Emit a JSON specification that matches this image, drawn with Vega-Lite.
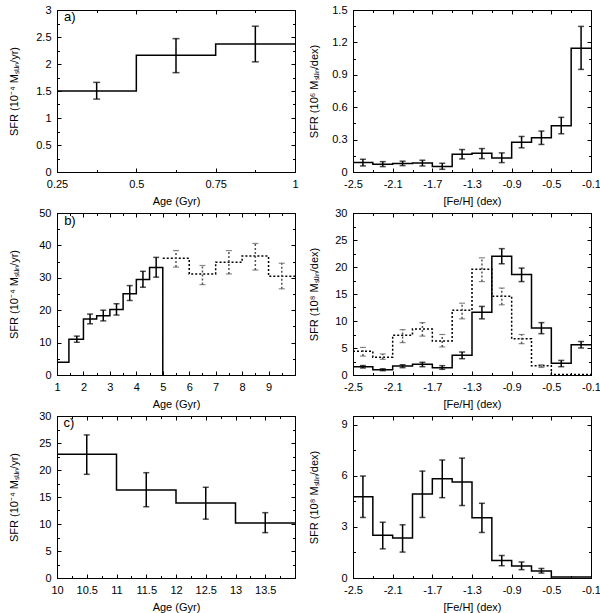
{
  "$schema": "https://vega.github.io/schema/vega-lite/v6.json",
  "description": "Star formation rate vs age and metallicity, three panels",
  "padding": {"left": 7, "top": 3, "right": 0, "bottom": 0},
  "columns": 2,
  "bounds": "flush",
  "spacing": {"row": 41, "column": 58},
  "datasets": {
    "al": [
      {"edge": 0.25, "sfr": 1.5, "mid": 0.375, "lo": 1.35, "hi": 1.66},
      {"edge": 0.5, "sfr": 2.16, "mid": 0.625, "lo": 1.84, "hi": 2.47},
      {"edge": 0.75, "sfr": 2.37, "mid": 0.875, "lo": 2.04, "hi": 2.7},
      {"edge": 1.0, "sfr": 2.37}
    ],
    "ar": [
      {"edge": -2.5, "sfr": 0.087, "mid": -2.4, "lo": 0.056, "hi": 0.118},
      {"edge": -2.3, "sfr": 0.071, "mid": -2.2, "lo": 0.05, "hi": 0.096},
      {"edge": -2.1, "sfr": 0.078, "mid": -2.0, "lo": 0.059, "hi": 0.1},
      {"edge": -1.9, "sfr": 0.084, "mid": -1.8, "lo": 0.056, "hi": 0.109},
      {"edge": -1.7, "sfr": 0.05, "mid": -1.6, "lo": 0.025, "hi": 0.081},
      {"edge": -1.5, "sfr": 0.165, "mid": -1.4, "lo": 0.121, "hi": 0.208},
      {"edge": -1.3, "sfr": 0.174, "mid": -1.2, "lo": 0.124, "hi": 0.217},
      {"edge": -1.1, "sfr": 0.13, "mid": -1.0, "lo": 0.087, "hi": 0.177},
      {"edge": -0.9, "sfr": 0.276, "mid": -0.8, "lo": 0.224, "hi": 0.329},
      {"edge": -0.7, "sfr": 0.317, "mid": -0.6, "lo": 0.255, "hi": 0.379},
      {"edge": -0.5, "sfr": 0.429, "mid": -0.4, "lo": 0.354, "hi": 0.506},
      {"edge": -0.3, "sfr": 1.146, "mid": -0.2, "lo": 0.95, "hi": 1.348},
      {"edge": -0.1, "sfr": 1.146}
    ],
    "bl": [
      {"s": "solid", "edge": 1.0, "sfr": 3.9},
      {"s": "solid", "edge": 1.45, "sfr": 11.0, "mid": 1.75, "lo": 10.1, "hi": 12.0},
      {"s": "solid", "edge": 2.0, "sfr": 17.3, "mid": 2.25, "lo": 15.8, "hi": 18.8},
      {"s": "solid", "edge": 2.5, "sfr": 18.3, "mid": 2.75, "lo": 16.7, "hi": 20.0},
      {"s": "solid", "edge": 3.0, "sfr": 20.2, "mid": 3.25, "lo": 18.5, "hi": 22.0},
      {"s": "solid", "edge": 3.5, "sfr": 25.1, "mid": 3.75, "lo": 23.0, "hi": 27.6},
      {"s": "solid", "edge": 4.0, "sfr": 29.5, "mid": 4.25, "lo": 27.1, "hi": 32.0},
      {"s": "solid", "edge": 4.5, "sfr": 33.2, "mid": 4.75, "lo": 30.2, "hi": 36.3},
      {"s": "solid", "edge": 5.0, "sfr": 0},
      {"s": "dotted", "edge": 5.0, "sfr": 36.0, "mid": 5.5, "lo": 33.3, "hi": 38.4},
      {"s": "dotted", "edge": 6.0, "sfr": 31.2, "mid": 6.5, "lo": 27.9, "hi": 33.8},
      {"s": "dotted", "edge": 7.0, "sfr": 34.8, "mid": 7.5, "lo": 31.2, "hi": 38.4},
      {"s": "dotted", "edge": 8.0, "sfr": 36.7, "mid": 8.5, "lo": 32.4, "hi": 40.6},
      {"s": "dotted", "edge": 9.0, "sfr": 30.5, "mid": 9.5, "lo": 26.6, "hi": 34.5},
      {"s": "dotted", "edge": 10.0, "sfr": 30.5}
    ],
    "br": [
      {"s": "solid", "edge": -2.5, "sfr": 1.54, "mid": -2.4, "lo": 1.3, "hi": 1.75},
      {"s": "solid", "edge": -2.3, "sfr": 0.99, "mid": -2.2, "lo": 0.8, "hi": 1.15},
      {"s": "solid", "edge": -2.1, "sfr": 1.67, "mid": -2.0, "lo": 1.36, "hi": 1.9},
      {"s": "solid", "edge": -1.9, "sfr": 1.98, "mid": -1.8, "lo": 1.54, "hi": 2.35},
      {"s": "solid", "edge": -1.7, "sfr": 1.36, "mid": -1.6, "lo": 1.05, "hi": 1.73},
      {"s": "solid", "edge": -1.5, "sfr": 3.64, "mid": -1.4, "lo": 3.02, "hi": 4.26},
      {"s": "solid", "edge": -1.3, "sfr": 11.6, "mid": -1.2, "lo": 10.4, "hi": 12.7},
      {"s": "solid", "edge": -1.1, "sfr": 22.0, "mid": -1.0, "lo": 20.6, "hi": 23.4},
      {"s": "solid", "edge": -0.9, "sfr": 18.6, "mid": -0.8, "lo": 17.3, "hi": 19.8},
      {"s": "solid", "edge": -0.7, "sfr": 8.7, "mid": -0.6, "lo": 7.65, "hi": 9.7},
      {"s": "solid", "edge": -0.5, "sfr": 2.16, "mid": -0.4, "lo": 1.54, "hi": 2.7},
      {"s": "solid", "edge": -0.3, "sfr": 5.6, "mid": -0.2, "lo": 5.0, "hi": 6.2},
      {"s": "solid", "edge": -0.1, "sfr": 5.6},
      {"s": "dotted", "edge": -2.5, "sfr": 4.4, "mid": -2.4, "lo": 3.5, "hi": 5.1},
      {"s": "dotted", "edge": -2.3, "sfr": 3.3, "mid": -2.2, "lo": 2.9, "hi": 3.9},
      {"s": "dotted", "edge": -2.1, "sfr": 7.35, "mid": -2.0, "lo": 6.0, "hi": 8.4},
      {"s": "dotted", "edge": -1.9, "sfr": 8.5, "mid": -1.8, "lo": 7.2, "hi": 9.7},
      {"s": "dotted", "edge": -1.7, "sfr": 6.3, "mid": -1.6, "lo": 5.2, "hi": 7.5},
      {"s": "dotted", "edge": -1.5, "sfr": 12.0, "mid": -1.4, "lo": 10.4, "hi": 13.3},
      {"s": "dotted", "edge": -1.3, "sfr": 19.6, "mid": -1.2, "lo": 17.3, "hi": 21.7},
      {"s": "dotted", "edge": -1.1, "sfr": 14.6, "mid": -1.0, "lo": 13.0, "hi": 16.1},
      {"s": "dotted", "edge": -0.9, "sfr": 6.7, "mid": -0.8, "lo": 5.8, "hi": 7.5},
      {"s": "dotted", "edge": -0.7, "sfr": 1.7, "mid": -0.6, "lo": 1.4, "hi": 1.9},
      {"s": "dotted", "edge": -0.5, "sfr": 0.1},
      {"s": "dotted", "edge": -0.3, "sfr": 0.1},
      {"s": "dotted", "edge": -0.1, "sfr": 0.1}
    ],
    "cl": [
      {"edge": 10, "sfr": 22.9, "mid": 10.5, "lo": 19.2, "hi": 26.5},
      {"edge": 11, "sfr": 16.3, "mid": 11.5, "lo": 13.2, "hi": 19.5},
      {"edge": 12, "sfr": 13.9, "mid": 12.5, "lo": 10.9, "hi": 16.8},
      {"edge": 13, "sfr": 10.2, "mid": 13.5, "lo": 8.4, "hi": 12.1},
      {"edge": 14, "sfr": 10.2}
    ],
    "cr": [
      {"edge": -2.5, "sfr": 4.77, "mid": -2.4, "lo": 3.55, "hi": 5.98},
      {"edge": -2.3, "sfr": 2.51, "mid": -2.2, "lo": 1.71, "hi": 3.27},
      {"edge": -2.1, "sfr": 2.34, "mid": -2.0, "lo": 1.52, "hi": 3.12},
      {"edge": -1.9, "sfr": 4.93, "mid": -1.8, "lo": 3.55, "hi": 6.27},
      {"edge": -1.7, "sfr": 5.82, "mid": -1.6, "lo": 4.71, "hi": 6.92},
      {"edge": -1.5, "sfr": 5.63, "mid": -1.4, "lo": 4.25, "hi": 7.03},
      {"edge": -1.3, "sfr": 3.53, "mid": -1.2, "lo": 2.67, "hi": 4.38},
      {"edge": -1.1, "sfr": 1.03, "mid": -1.0, "lo": 0.72, "hi": 1.32},
      {"edge": -0.9, "sfr": 0.7, "mid": -0.8, "lo": 0.49, "hi": 0.94},
      {"edge": -0.7, "sfr": 0.41, "mid": -0.6, "lo": 0.29, "hi": 0.56},
      {"edge": -0.5, "sfr": 0.06},
      {"edge": -0.3, "sfr": 0.06},
      {"edge": -0.1, "sfr": 0.06}
    ]
  },
  "concat": [
    {
      "width": 238, "height": 162,
      "data": {"name": "al"},
      "layer": [
        {"mark": {"type": "line", "interpolate": "step-after", "color": "black", "strokeWidth": 1.5},
         "encoding": {
           "x": {"field": "edge", "type": "quantitative", "scale": {"domain": [0.25, 1]},
                 "axis": {"orient": "bottom", "values": [0.25, 0.5, 0.75, 1], "title": "Age (Gyr)", "titleY": 23}},
           "y": {"field": "sfr", "type": "quantitative", "scale": {"domain": [0, 3]},
                 "axis": {"orient": "left", "values": [0, 0.5, 1, 1.5, 2, 2.5, 3], "title": "SFR (10⁻⁴ Mₛᵤₙ/yr)", "titleX": -38}}}},
        {"transform": [{"filter": "isValid(datum.lo)"}],
         "mark": {"type": "rule", "color": "black", "strokeWidth": 1.5},
         "encoding": {
           "x": {"field": "mid", "type": "quantitative", "scale": {"domain": [0.25, 1]}, "axis": {"orient": "top", "values": [0.25, 0.5, 0.75, 1], "labels": false, "title": null}},
           "y": {"field": "lo", "type": "quantitative", "scale": {"domain": [0, 3]}, "axis": {"orient": "right", "values": [0, 0.5, 1, 1.5, 2, 2.5, 3], "labels": false, "title": null}},
           "y2": {"field": "hi"}}},
        {"data": {"values": [{"tag": "a)"}]},
         "mark": {"type": "text", "align": "left", "baseline": "middle", "fontSize": 13},
         "encoding": {"x": {"datum": 0.272, "type": "quantitative", "scale": {"domain": [0.25, 1]}, "axis": null}, "y": {"datum": 2.87, "type": "quantitative", "scale": {"domain": [0, 3]}, "axis": null}, "text": {"field": "tag"}}},
        {"transform": [{"filter": "isValid(datum.lo)"}],
         "mark": {"type": "tick", "orient": "horizontal", "size": 7, "thickness": 1.5, "color": "black"},
         "encoding": {
           "x": {"field": "mid", "type": "quantitative", "scale": {"domain": [0.25, 1]}, "axis": {"orient": "bottom", "values": [0.375, 0.625, 0.875], "labels": false, "domain": false, "tickSize": -2.5, "title": null}},
           "y": {"field": "lo", "type": "quantitative", "scale": {"domain": [0, 3]}, "axis": {"orient": "left", "values": [0.25, 0.75, 1.25, 1.75, 2.25, 2.75], "labels": false, "domain": false, "tickSize": -2.5, "title": null}}}},
        {"transform": [{"filter": "isValid(datum.lo)"}],
         "mark": {"type": "tick", "orient": "horizontal", "size": 7, "thickness": 1.5, "color": "black"},
         "encoding": {
           "x": {"field": "mid", "type": "quantitative", "scale": {"domain": [0.25, 1]}, "axis": {"orient": "top", "values": [0.375, 0.625, 0.875], "labels": false, "domain": false, "tickSize": -2.5, "title": null}},
           "y": {"field": "hi", "type": "quantitative", "scale": {"domain": [0, 3]}, "axis": {"orient": "right", "values": [0.25, 0.75, 1.25, 1.75, 2.25, 2.75], "labels": false, "domain": false, "tickSize": -2.5, "title": null}}}}
      ]
    },
    {
      "width": 238, "height": 162,
      "data": {"name": "ar"},
      "layer": [
        {"mark": {"type": "line", "interpolate": "step-after", "color": "black", "strokeWidth": 1.5},
         "encoding": {
           "x": {"field": "edge", "type": "quantitative", "scale": {"domain": [-2.5, -0.1]},
                 "axis": {"orient": "bottom", "values": [-2.5, -2.1, -1.7, -1.3, -0.9, -0.5, -0.1], "title": "[Fe/H] (dex)", "titleY": 23}},
           "y": {"field": "sfr", "type": "quantitative", "scale": {"domain": [0, 1.5]},
                 "axis": {"orient": "left", "values": [0, 0.3, 0.6, 0.9, 1.2, 1.5], "title": "SFR (10⁶ Mₛᵤₙ/dex)", "titleX": -34}}}},
        {"transform": [{"filter": "isValid(datum.lo)"}],
         "mark": {"type": "rule", "color": "black", "strokeWidth": 1.5},
         "encoding": {
           "x": {"field": "mid", "type": "quantitative", "scale": {"domain": [-2.5, -0.1]}, "axis": {"orient": "top", "values": [-2.5, -2.1, -1.7, -1.3, -0.9, -0.5, -0.1], "labels": false, "title": null}},
           "y": {"field": "lo", "type": "quantitative", "scale": {"domain": [0, 1.5]}, "axis": {"orient": "right", "values": [0, 0.3, 0.6, 0.9, 1.2, 1.5], "labels": false, "title": null}},
           "y2": {"field": "hi"}}},
        {"transform": [{"filter": "isValid(datum.lo)"}],
         "mark": {"type": "tick", "orient": "horizontal", "size": 6, "thickness": 1.5, "color": "black"},
         "encoding": {
           "x": {"field": "mid", "type": "quantitative", "scale": {"domain": [-2.5, -0.1]}, "axis": {"orient": "bottom", "values": [-2.3, -1.9, -1.5, -1.1, -0.7, -0.3], "labels": false, "domain": false, "tickSize": -2.5, "title": null}},
           "y": {"field": "lo", "type": "quantitative", "scale": {"domain": [0, 1.5]}, "axis": {"orient": "left", "values": [0.15, 0.45, 0.75, 1.05, 1.35], "labels": false, "domain": false, "tickSize": -2.5, "title": null}}}},
        {"transform": [{"filter": "isValid(datum.lo)"}],
         "mark": {"type": "tick", "orient": "horizontal", "size": 6, "thickness": 1.5, "color": "black"},
         "encoding": {
           "x": {"field": "mid", "type": "quantitative", "scale": {"domain": [-2.5, -0.1]}, "axis": {"orient": "top", "values": [-2.3, -1.9, -1.5, -1.1, -0.7, -0.3], "labels": false, "domain": false, "tickSize": -2.5, "title": null}},
           "y": {"field": "hi", "type": "quantitative", "scale": {"domain": [0, 1.5]}, "axis": {"orient": "right", "values": [0.15, 0.45, 0.75, 1.05, 1.35], "labels": false, "domain": false, "tickSize": -2.5, "title": null}}}}
      ]
    },
    {
      "width": 238, "height": 162,
      "data": {"name": "bl"},
      "layer": [
        {"transform": [{"filter": "datum.s == 'solid'"}],
         "mark": {"type": "line", "interpolate": "step-after", "color": "black", "strokeWidth": 1.5},
         "encoding": {
           "x": {"field": "edge", "type": "quantitative", "scale": {"domain": [1, 10]},
                 "axis": {"orient": "bottom", "values": [1, 2, 3, 4, 5, 6, 7, 8, 9], "title": "Age (Gyr)", "titleY": 23}},
           "y": {"field": "sfr", "type": "quantitative", "scale": {"domain": [0, 50]},
                 "axis": {"orient": "left", "values": [0, 10, 20, 30, 40, 50], "title": "SFR (10⁻⁴ Mₛᵤₙ/yr)", "titleX": -38}}}},
        {"transform": [{"filter": "isValid(datum.lo) && datum.s == 'solid'"}],
         "mark": {"type": "rule", "color": "black", "strokeWidth": 1.5},
         "encoding": {
           "x": {"field": "mid", "type": "quantitative", "scale": {"domain": [1, 10]}, "axis": {"orient": "top", "values": [1, 2, 3, 4, 5, 6, 7, 8, 9], "labels": false, "title": null}},
           "y": {"field": "lo", "type": "quantitative", "scale": {"domain": [0, 50]}, "axis": {"orient": "right", "values": [0, 10, 20, 30, 40, 50], "labels": false, "title": null}},
           "y2": {"field": "hi"}}},
        {"data": {"values": [{"tag": "b)"}]},
         "mark": {"type": "text", "align": "left", "baseline": "middle", "fontSize": 13},
         "encoding": {"x": {"datum": 1.27, "type": "quantitative", "scale": {"domain": [1, 10]}, "axis": null}, "y": {"datum": 47.4, "type": "quantitative", "scale": {"domain": [0, 50]}, "axis": null}, "text": {"field": "tag"}}},
        {"transform": [{"filter": "datum.s == 'dotted'"}],
         "mark": {"type": "line", "interpolate": "step-after", "color": "black", "strokeWidth": 1.5, "strokeDash": [2, 2]},
         "encoding": {"x": {"field": "edge", "type": "quantitative", "scale": {"domain": [1, 10]}, "axis": null}, "y": {"field": "sfr", "type": "quantitative", "scale": {"domain": [0, 50]}, "axis": null}}},
        {"transform": [{"filter": "isValid(datum.lo) && datum.s == 'solid'"}],
         "mark": {"type": "tick", "orient": "horizontal", "size": 6, "thickness": 1.5, "color": "black"},
         "encoding": {
           "x": {"field": "mid", "type": "quantitative", "scale": {"domain": [1, 10]}, "axis": {"orient": "bottom", "values": [1.5, 2.5, 3.5, 4.5, 5.5, 6.5, 7.5, 8.5, 9.5], "labels": false, "domain": false, "tickSize": -2.5, "title": null}},
           "y": {"field": "lo", "type": "quantitative", "scale": {"domain": [0, 50]}, "axis": {"orient": "left", "values": [5, 15, 25, 35, 45], "labels": false, "domain": false, "tickSize": -2.5, "title": null}}}},
        {"transform": [{"filter": "isValid(datum.lo) && datum.s == 'solid'"}],
         "mark": {"type": "tick", "orient": "horizontal", "size": 6, "thickness": 1.5, "color": "black"},
         "encoding": {
           "x": {"field": "mid", "type": "quantitative", "scale": {"domain": [1, 10]}, "axis": {"orient": "top", "values": [1.5, 2.5, 3.5, 4.5, 5.5, 6.5, 7.5, 8.5, 9.5], "labels": false, "domain": false, "tickSize": -2.5, "title": null}},
           "y": {"field": "hi", "type": "quantitative", "scale": {"domain": [0, 50]}, "axis": {"orient": "right", "values": [5, 15, 25, 35, 45], "labels": false, "domain": false, "tickSize": -2.5, "title": null}}}},
        {"transform": [{"filter": "isValid(datum.lo) && datum.s == 'dotted'"}],
         "mark": {"type": "rule", "color": "#555", "strokeWidth": 1.5, "strokeDash": [2, 2]},
         "encoding": {"x": {"field": "mid", "type": "quantitative", "scale": {"domain": [1, 10]}, "axis": null}, "y": {"field": "lo", "type": "quantitative", "scale": {"domain": [0, 50]}, "axis": null}, "y2": {"field": "hi"}}},
        {"transform": [{"filter": "isValid(datum.lo) && datum.s == 'dotted'"}],
         "mark": {"type": "tick", "orient": "horizontal", "size": 6, "thickness": 1.2, "color": "#555", "strokeDash": [2, 2]},
         "encoding": {"x": {"field": "mid", "type": "quantitative", "scale": {"domain": [1, 10]}, "axis": null}, "y": {"field": "lo", "type": "quantitative", "scale": {"domain": [0, 50]}, "axis": null}}},
        {"transform": [{"filter": "isValid(datum.lo) && datum.s == 'dotted'"}],
         "mark": {"type": "tick", "orient": "horizontal", "size": 6, "thickness": 1.2, "color": "#555", "strokeDash": [2, 2]},
         "encoding": {"x": {"field": "mid", "type": "quantitative", "scale": {"domain": [1, 10]}, "axis": null}, "y": {"field": "hi", "type": "quantitative", "scale": {"domain": [0, 50]}, "axis": null}}}
      ]
    },
    {
      "width": 238, "height": 162,
      "data": {"name": "br"},
      "layer": [
        {"transform": [{"filter": "datum.s == 'solid'"}],
         "mark": {"type": "line", "interpolate": "step-after", "color": "black", "strokeWidth": 1.5},
         "encoding": {
           "x": {"field": "edge", "type": "quantitative", "scale": {"domain": [-2.5, -0.1]},
                 "axis": {"orient": "bottom", "values": [-2.5, -2.1, -1.7, -1.3, -0.9, -0.5, -0.1], "title": "[Fe/H] (dex)", "titleY": 23}},
           "y": {"field": "sfr", "type": "quantitative", "scale": {"domain": [0, 30]},
                 "axis": {"orient": "left", "values": [0, 5, 10, 15, 20, 25, 30], "title": "SFR (10⁸ Mₛᵤₙ/dex)", "titleX": -34}}}},
        {"transform": [{"filter": "isValid(datum.lo) && datum.s == 'solid'"}],
         "mark": {"type": "rule", "color": "black", "strokeWidth": 1.5},
         "encoding": {
           "x": {"field": "mid", "type": "quantitative", "scale": {"domain": [-2.5, -0.1]}, "axis": {"orient": "top", "values": [-2.5, -2.1, -1.7, -1.3, -0.9, -0.5, -0.1], "labels": false, "title": null}},
           "y": {"field": "lo", "type": "quantitative", "scale": {"domain": [0, 30]}, "axis": {"orient": "right", "values": [0, 5, 10, 15, 20, 25, 30], "labels": false, "title": null}},
           "y2": {"field": "hi"}}},
        {"transform": [{"filter": "datum.s == 'dotted'"}],
         "mark": {"type": "line", "interpolate": "step-after", "color": "black", "strokeWidth": 1.5, "strokeDash": [2, 2]},
         "encoding": {"x": {"field": "edge", "type": "quantitative", "scale": {"domain": [-2.5, -0.1]}, "axis": null}, "y": {"field": "sfr", "type": "quantitative", "scale": {"domain": [0, 30]}, "axis": null}}},
        {"transform": [{"filter": "isValid(datum.lo) && datum.s == 'solid'"}],
         "mark": {"type": "tick", "orient": "horizontal", "size": 6, "thickness": 1.5, "color": "black"},
         "encoding": {
           "x": {"field": "mid", "type": "quantitative", "scale": {"domain": [-2.5, -0.1]}, "axis": {"orient": "bottom", "values": [-2.3, -1.9, -1.5, -1.1, -0.7, -0.3], "labels": false, "domain": false, "tickSize": -2.5, "title": null}},
           "y": {"field": "lo", "type": "quantitative", "scale": {"domain": [0, 30]}, "axis": {"orient": "left", "values": [2.5, 7.5, 12.5, 17.5, 22.5, 27.5], "labels": false, "domain": false, "tickSize": -2.5, "title": null}}}},
        {"transform": [{"filter": "isValid(datum.lo) && datum.s == 'solid'"}],
         "mark": {"type": "tick", "orient": "horizontal", "size": 6, "thickness": 1.5, "color": "black"},
         "encoding": {
           "x": {"field": "mid", "type": "quantitative", "scale": {"domain": [-2.5, -0.1]}, "axis": {"orient": "top", "values": [-2.3, -1.9, -1.5, -1.1, -0.7, -0.3], "labels": false, "domain": false, "tickSize": -2.5, "title": null}},
           "y": {"field": "hi", "type": "quantitative", "scale": {"domain": [0, 30]}, "axis": {"orient": "right", "values": [2.5, 7.5, 12.5, 17.5, 22.5, 27.5], "labels": false, "domain": false, "tickSize": -2.5, "title": null}}}},
        {"transform": [{"filter": "isValid(datum.lo) && datum.s == 'dotted'"}],
         "mark": {"type": "rule", "color": "#555", "strokeWidth": 1.5, "strokeDash": [2, 2]},
         "encoding": {"x": {"field": "mid", "type": "quantitative", "scale": {"domain": [-2.5, -0.1]}, "axis": null}, "y": {"field": "lo", "type": "quantitative", "scale": {"domain": [0, 30]}, "axis": null}, "y2": {"field": "hi"}}},
        {"transform": [{"filter": "isValid(datum.lo) && datum.s == 'dotted'"}],
         "mark": {"type": "tick", "orient": "horizontal", "size": 6, "thickness": 1.2, "color": "#555", "strokeDash": [2, 2]},
         "encoding": {"x": {"field": "mid", "type": "quantitative", "scale": {"domain": [-2.5, -0.1]}, "axis": null}, "y": {"field": "lo", "type": "quantitative", "scale": {"domain": [0, 30]}, "axis": null}}},
        {"transform": [{"filter": "isValid(datum.lo) && datum.s == 'dotted'"}],
         "mark": {"type": "tick", "orient": "horizontal", "size": 6, "thickness": 1.2, "color": "#555", "strokeDash": [2, 2]},
         "encoding": {"x": {"field": "mid", "type": "quantitative", "scale": {"domain": [-2.5, -0.1]}, "axis": null}, "y": {"field": "hi", "type": "quantitative", "scale": {"domain": [0, 30]}, "axis": null}}}
      ]
    },
    {
      "width": 238, "height": 162,
      "data": {"name": "cl"},
      "layer": [
        {"mark": {"type": "line", "interpolate": "step-after", "color": "black", "strokeWidth": 1.5},
         "encoding": {
           "x": {"field": "edge", "type": "quantitative", "scale": {"domain": [10, 14]},
                 "axis": {"orient": "bottom", "values": [10, 10.5, 11, 11.5, 12, 12.5, 13, 13.5], "title": "Age (Gyr)", "titleY": 23}},
           "y": {"field": "sfr", "type": "quantitative", "scale": {"domain": [0, 30]},
                 "axis": {"orient": "left", "values": [0, 5, 10, 15, 20, 25, 30], "title": "SFR (10⁻⁴ Mₛᵤₙ/yr)", "titleX": -38}}}},
        {"transform": [{"filter": "isValid(datum.lo)"}],
         "mark": {"type": "rule", "color": "black", "strokeWidth": 1.5},
         "encoding": {
           "x": {"field": "mid", "type": "quantitative", "scale": {"domain": [10, 14]}, "axis": {"orient": "top", "values": [10, 10.5, 11, 11.5, 12, 12.5, 13, 13.5], "labels": false, "title": null}},
           "y": {"field": "lo", "type": "quantitative", "scale": {"domain": [0, 30]}, "axis": {"orient": "right", "values": [0, 5, 10, 15, 20, 25, 30], "labels": false, "title": null}},
           "y2": {"field": "hi"}}},
        {"data": {"values": [{"tag": "c)"}]},
         "mark": {"type": "text", "align": "left", "baseline": "middle", "fontSize": 13},
         "encoding": {"x": {"datum": 10.11, "type": "quantitative", "scale": {"domain": [10, 14]}, "axis": null}, "y": {"datum": 28.7, "type": "quantitative", "scale": {"domain": [0, 30]}, "axis": null}, "text": {"field": "tag"}}},
        {"transform": [{"filter": "isValid(datum.lo)"}],
         "mark": {"type": "tick", "orient": "horizontal", "size": 6, "thickness": 1.5, "color": "black"},
         "encoding": {
           "x": {"field": "mid", "type": "quantitative", "scale": {"domain": [10, 14]}, "axis": {"orient": "bottom", "values": [10.25, 10.75, 11.25, 11.75, 12.25, 12.75, 13.25, 13.75], "labels": false, "domain": false, "tickSize": -2.5, "title": null}},
           "y": {"field": "lo", "type": "quantitative", "scale": {"domain": [0, 30]}, "axis": {"orient": "left", "values": [2.5, 7.5, 12.5, 17.5, 22.5, 27.5], "labels": false, "domain": false, "tickSize": -2.5, "title": null}}}},
        {"transform": [{"filter": "isValid(datum.lo)"}],
         "mark": {"type": "tick", "orient": "horizontal", "size": 6, "thickness": 1.5, "color": "black"},
         "encoding": {
           "x": {"field": "mid", "type": "quantitative", "scale": {"domain": [10, 14]}, "axis": {"orient": "top", "values": [10.25, 10.75, 11.25, 11.75, 12.25, 12.75, 13.25, 13.75], "labels": false, "domain": false, "tickSize": -2.5, "title": null}},
           "y": {"field": "hi", "type": "quantitative", "scale": {"domain": [0, 30]}, "axis": {"orient": "right", "values": [2.5, 7.5, 12.5, 17.5, 22.5, 27.5], "labels": false, "domain": false, "tickSize": -2.5, "title": null}}}}
      ]
    },
    {
      "width": 238, "height": 162,
      "data": {"name": "cr"},
      "layer": [
        {"mark": {"type": "line", "interpolate": "step-after", "color": "black", "strokeWidth": 1.5},
         "encoding": {
           "x": {"field": "edge", "type": "quantitative", "scale": {"domain": [-2.5, -0.1]},
                 "axis": {"orient": "bottom", "values": [-2.5, -2.1, -1.7, -1.3, -0.9, -0.5, -0.1], "title": "[Fe/H] (dex)", "titleY": 23}},
           "y": {"field": "sfr", "type": "quantitative", "scale": {"domain": [0, 9.5]},
                 "axis": {"orient": "left", "values": [0, 3, 6, 9], "title": "SFR (10⁸ Mₛᵤₙ/dex)", "titleX": -34}}}},
        {"transform": [{"filter": "isValid(datum.lo)"}],
         "mark": {"type": "rule", "color": "black", "strokeWidth": 1.5},
         "encoding": {
           "x": {"field": "mid", "type": "quantitative", "scale": {"domain": [-2.5, -0.1]}, "axis": {"orient": "top", "values": [-2.5, -2.1, -1.7, -1.3, -0.9, -0.5, -0.1], "labels": false, "title": null}},
           "y": {"field": "lo", "type": "quantitative", "scale": {"domain": [0, 9.5]}, "axis": {"orient": "right", "values": [0, 3, 6, 9], "labels": false, "title": null}},
           "y2": {"field": "hi"}}},
        {"transform": [{"filter": "isValid(datum.lo)"}],
         "mark": {"type": "tick", "orient": "horizontal", "size": 6, "thickness": 1.5, "color": "black"},
         "encoding": {
           "x": {"field": "mid", "type": "quantitative", "scale": {"domain": [-2.5, -0.1]}, "axis": {"orient": "bottom", "values": [-2.3, -1.9, -1.5, -1.1, -0.7, -0.3], "labels": false, "domain": false, "tickSize": -2.5, "title": null}},
           "y": {"field": "lo", "type": "quantitative", "scale": {"domain": [0, 9.5]}, "axis": {"orient": "left", "values": [1.5, 4.5, 7.5], "labels": false, "domain": false, "tickSize": -2.5, "title": null}}}},
        {"transform": [{"filter": "isValid(datum.lo)"}],
         "mark": {"type": "tick", "orient": "horizontal", "size": 6, "thickness": 1.5, "color": "black"},
         "encoding": {
           "x": {"field": "mid", "type": "quantitative", "scale": {"domain": [-2.5, -0.1]}, "axis": {"orient": "top", "values": [-2.3, -1.9, -1.5, -1.1, -0.7, -0.3], "labels": false, "domain": false, "tickSize": -2.5, "title": null}},
           "y": {"field": "hi", "type": "quantitative", "scale": {"domain": [0, 9.5]}, "axis": {"orient": "right", "values": [1.5, 4.5, 7.5], "labels": false, "domain": false, "tickSize": -2.5, "title": null}}}}
      ]
    }
  ],
  "config": {
    "font": "Liberation Sans",
    "view": {"stroke": "black", "strokeWidth": 1},
    "style": {"guide-title": {"fontWeight": "normal"}},
    "axis": {
      "grid": false,
      "domainColor": "black",
      "domainWidth": 1,
      "tickColor": "black",
      "tickWidth": 1,
      "tickSize": -4,
      "labelPadding": 10,
      "labelColor": "black",
      "labelFontSize": 11,
      "labelFlush": false,
      "labelOverlap": false,
      "labelExpr": "'' + datum.value",
      "titleColor": "black",
      "titleFontSize": 11,
      "titleFontWeight": "normal"
    }
  }
}
